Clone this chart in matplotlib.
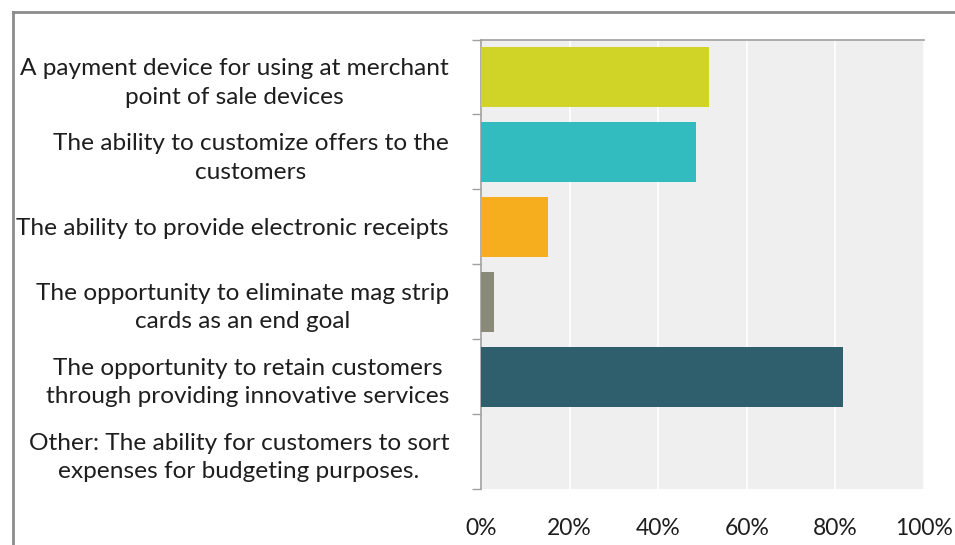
import matplotlib.pyplot as plt
from matplotlib.lines import Line2D
from matplotlib.ticker import FixedLocator

# Survey answers (share of respondents)
categories = [
    "A payment device for using at merchant\npoint of sale devices",
    "The ability to customize offers to the\ncustomers",
    "The ability to provide electronic receipts",
    "The opportunity to eliminate mag strip\ncards as an end goal",
    "The opportunity to retain customers\nthrough providing innovative services",
    "Other: The ability for customers to sort\nexpenses for budgeting purposes.",
]
shares = [51.5, 48.5, 15.2, 3.0, 81.8, 0.0]
bar_colors = ["#cfd426", "#33bcbf", "#f6ae1f", "#8a8a78", "#2f5f6d", "#2f5f6d"]
x_ticks = [0, 20, 40, 60, 80, 100]
x_labels = ["0%", "20%", "40%", "60%", "80%", "100%"]

W, H, DPI = 955, 545, 100
plt.rcParams["font.family"] = ["Lato", "DejaVu Sans"]

fig = plt.figure(figsize=(W / DPI, H / DPI), dpi=DPI)
ax = fig.add_axes([481 / W, 1 - 489 / H, (924 - 481) / W, (489 - 39.5) / H])

ypos = list(range(len(categories)))
ax.barh(ypos, shares, height=0.8, color=bar_colors, zorder=3)

ax.set_facecolor("#efefef")
ax.set_xlim(0, 100)
ax.set_ylim(len(categories) - 0.5, -0.5)

# x axis: percent labels, white gridlines, no tick marks
ax.set_xticks(x_ticks)
ax.set_xticklabels(x_labels, fontsize=16.5, color="#1e1e1e")
ax.tick_params(axis="x", length=0, pad=21)
ax.grid(axis="x", color="white", linewidth=1.2, zorder=1)

# y axis: tick marks on category boundaries, labels on category centres
ax.yaxis.set_major_locator(FixedLocator([i - 0.5 for i in range(len(categories) + 1)]))
ax.set_yticklabels([])
ax.tick_params(axis="y", which="major", length=6.5, width=1, color="#a0a0a0")
ax.yaxis.set_minor_locator(FixedLocator(ypos))
ax.set_yticklabels(categories, minor=True, fontsize=17.6, color="#1e1e1e")
ax.tick_params(axis="y", which="minor", length=0, pad=23)
for lbl in ax.get_yticklabels(minor=True):
    lbl.set_multialignment("center")
    lbl.set_linespacing(1.45)

for side in ("right", "bottom"):
    ax.spines[side].set_visible(False)
for side in ("left", "top"):
    ax.spines[side].set_color("#a0a0a0")
    ax.spines[side].set_linewidth(1.2)

# chart frame (runs off the right and bottom edges)
fx, fy = 13 / W, 1 - 12 / H
fig.add_artist(Line2D([fx, 1.01], [fy, fy], color="#8c8c8c", linewidth=2))
fig.add_artist(Line2D([fx, fx], [fy, -0.01], color="#8c8c8c", linewidth=2))

fig.savefig("out.png", dpi=DPI)
